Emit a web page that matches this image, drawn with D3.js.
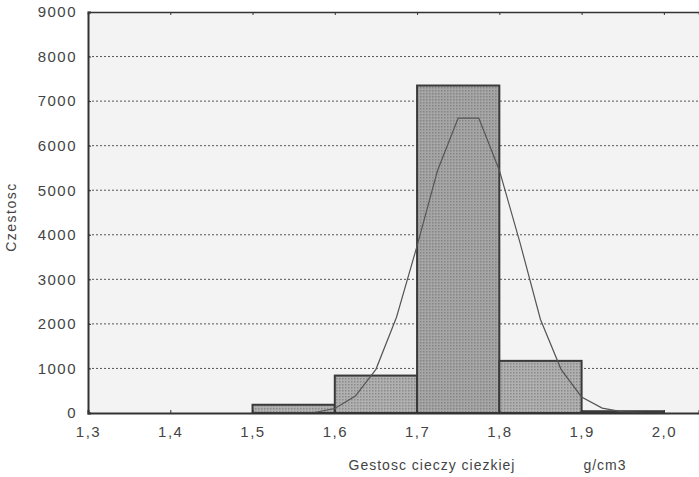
<!DOCTYPE html>
<html><head><meta charset="utf-8">
<script src="https://cdn.jsdelivr.net/npm/d3@7"></script>
<style>body{margin:0;background:#fff}svg{display:block}text{font-family:"Liberation Sans",Arial,sans-serif;fill:#444}</style>
</head><body><svg id="c" width="699" height="477"></svg>
<script>
const binStarts = [1.5, 1.6, 1.7, 1.8, 1.9];
const binWidth = 0.1;
const counts = [185, 840, 7350, 1170, 40];
const curveX = [1.5, 1.575, 1.6, 1.625, 1.65, 1.675, 1.7, 1.725, 1.75, 1.775, 1.8, 1.825, 1.85, 1.875, 1.9, 1.925, 1.95, 1.975, 2.0];
const curveY = [0, 10, 100, 380, 980, 2150, 3750, 5450, 6620, 6620, 5450, 3830, 2100, 980, 360, 110, 25, 5, 0];
const yTicks = [0, 1000, 2000, 3000, 4000, 5000, 6000, 7000, 8000, 9000];
const xTicks = [1.3, 1.4, 1.5, 1.6, 1.7, 1.8, 1.9, 2.0];

const svg = d3.select("#c");
const L = 88, R = 699, T = 12, B = 413;
const x = d3.scaleLinear().domain([1.3, 2.0427]).range([L, R]);
const y = d3.scaleLinear().domain([0, 9000]).range([B, T]);

const defs = svg.append("defs");
const pat = defs.append("pattern").attr("id", "dots").attr("width", 3).attr("height", 3).attr("patternUnits", "userSpaceOnUse");
pat.append("rect").attr("width", 3).attr("height", 3).attr("fill", "#b0b0b0");
pat.append("rect").attr("width", 1.5).attr("height", 1.5).attr("fill", "#8a8a8a");
const pat2 = defs.append("pattern").attr("id", "dots2").attr("width", 3).attr("height", 3).attr("patternUnits", "userSpaceOnUse");
pat2.append("rect").attr("width", 3).attr("height", 3).attr("fill", "#a6a6a6");
pat2.append("rect").attr("width", 1.5).attr("height", 1.5).attr("fill", "#848484");

svg.append("rect").attr("x", L).attr("y", T).attr("width", R - L).attr("height", B - T).attr("fill", "#f3f3f3");

// grid
svg.append("g").selectAll("line").data(yTicks.filter(d => d > 0 && d < 9000)).join("line")
  .attr("x1", L).attr("x2", R).attr("y1", d => y(d)).attr("y2", d => y(d))
  .attr("stroke", "#555").attr("stroke-width", 1).attr("stroke-dasharray", "2,2");

// bars
svg.append("g").selectAll("rect").data(binStarts).join("rect")
  .attr("x", d => x(d)).attr("width", d => x(d + binWidth) - x(d))
  .attr("y", (d, i) => y(counts[i])).attr("height", (d, i) => B - y(counts[i]))
  .attr("fill", (d, i) => counts[i] > 5000 ? "url(#dots2)" : "url(#dots)")
  .attr("stroke", "#3a3a3a").attr("stroke-width", 2);

// curve
svg.append("path").datum(curveX.map((d, i) => [d, curveY[i]]))
  .attr("d", d3.line().x(d => x(d[0])).y(d => y(d[1])))
  .attr("fill", "none").attr("stroke", "#555").attr("stroke-width", 1.2);

// axes
const yAxis = svg.append("g").attr("transform", `translate(${L},0)`)
  .call(d3.axisLeft(y).tickValues(yTicks).tickSize(-3).tickPadding(11).tickFormat(d3.format("d")));
const xAxis = svg.append("g").attr("transform", `translate(0,${B})`)
  .call(d3.axisBottom(x).tickValues(xTicks).tickSize(-3).tickPadding(13).tickFormat(d => d.toFixed(1).replace(".", ",")));
const xTop = svg.append("g").attr("transform", `translate(0,${T})`)
  .call(d3.axisTop(x).tickValues(xTicks).tickSize(-3).tickFormat(""));
[yAxis, xAxis, xTop].forEach(g => {
  g.select(".domain").attr("stroke", "#333").attr("stroke-width", 2);
  g.selectAll(".tick line").attr("stroke", "#333");
  g.selectAll("text").attr("font-size", 15).attr("letter-spacing", "1.5px").attr("fill", "#444");
});
xTop.select(".domain").attr("stroke-width", 1.5);

svg.append("text").attr("transform", "translate(16,217) rotate(-90)").attr("text-anchor", "middle")
  .attr("font-size", 14).attr("letter-spacing", "1.5px").text("Czestosc");
svg.append("text").attr("x", 432).attr("y", 470).attr("text-anchor", "middle").attr("font-size", 14).attr("letter-spacing", "1px").text("Gestosc cieczy ciezkiej");
svg.append("text").attr("x", 605).attr("y", 470).attr("text-anchor", "middle").attr("font-size", 14).attr("letter-spacing", "1px").text("g/cm3");
</script></body></html>
